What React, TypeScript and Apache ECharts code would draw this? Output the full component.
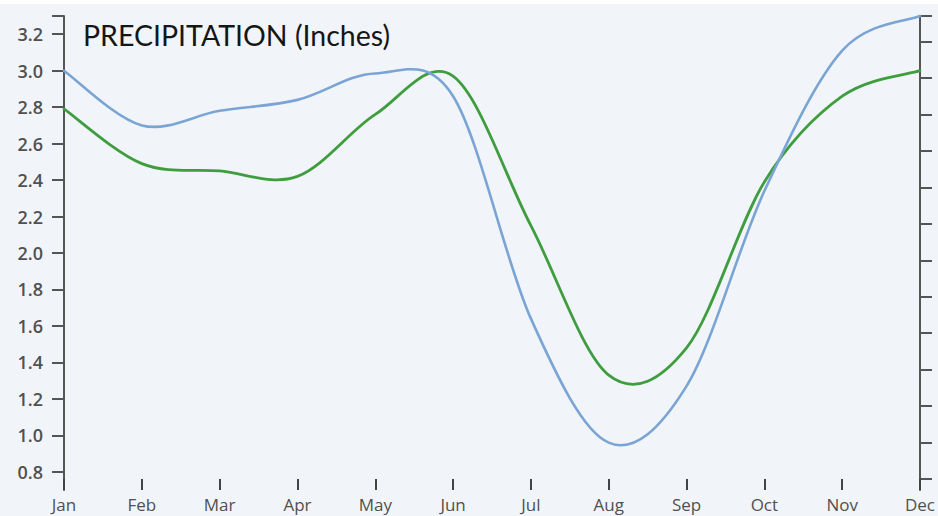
import React, { useEffect, useRef } from "react";
import * as echarts from "echarts";

const months = ["Jan", "Feb", "Mar", "Apr", "May", "Jun", "Jul", "Aug", "Sep", "Oct", "Nov", "Dec"];
const blueSeries = [3.0, 2.7, 2.78, 2.84, 2.985, 2.86, 1.64, 0.96, 1.27, 2.34, 3.11, 3.3];
const greenSeries = [2.79, 2.49, 2.45, 2.42, 2.76, 2.97, 2.15, 1.33, 1.48, 2.39, 2.86, 3.0];
const leftTickLabels = [0.8, 1.0, 1.2, 1.4, 1.6, 1.8, 2.0, 2.2, 2.4, 2.6, 2.8, 3.0, 3.2];
const leftTicks = [...leftTickLabels, 3.3];
const rightTicks = [0.76, 0.96, 1.16, 1.36, 1.56, 1.76, 1.96, 2.16, 2.36, 2.56, 2.76, 2.96, 3.16, 3.3];
const titleText = "PRECIPITATION (Inches)";

function splineSeries(values: number[], color: string, width: number, z: number) {
  return {
    type: "custom",
    coordinateSystem: "cartesian2d",
    xAxisIndex: 0,
    yAxisIndex: 0,
    data: values.map((v, i) => [i, v]),
    encode: { x: 0, y: 1 },
    z,
    silent: true,
    renderItem: (params: any, api: any) => {
      if (params.dataIndex !== 0) return null;
      const pts = values.map((v, i) => api.coord([i, v]));
      const n = pts.length;
      let d = `M${pts[0][0]},${pts[0][1]}`;
      for (let i = 0; i < n - 1; i++) {
        const p0 = pts[Math.max(0, i - 1)];
        const p1 = pts[i];
        const p2 = pts[i + 1];
        const p3 = pts[Math.min(n - 1, i + 2)];
        const c1x = p1[0] + (p2[0] - p0[0]) / 6;
        const c1y = p1[1] + (p2[1] - p0[1]) / 6;
        const c2x = p2[0] - (p3[0] - p1[0]) / 6;
        const c2y = p2[1] - (p3[1] - p1[1]) / 6;
        d += ` C${c1x},${c1y} ${c2x},${c2y} ${p2[0]},${p2[1]}`;
      }
      return {
        type: "path",
        shape: { pathData: d },
        style: { fill: "none", stroke: color, lineWidth: width, lineJoin: "round", lineCap: "round" },
      };
    },
  };
}

export default function App() {
  const ref = useRef<HTMLDivElement>(null);
  useEffect(() => {
    if (!ref.current) return;
    const chart = echarts.init(ref.current, undefined, { renderer: "svg" });
    const axisColor = "#555555";
    const labelColor = "#505050";
    chart.setOption({
      animation: false,
      backgroundColor: "#f1f5fa",
      title: {
        text: titleText,
        left: 78,
        top: 15,
        textStyle: { fontFamily: "Lato", fontSize: 28.5, fontWeight: "normal", color: "#161616" },
      },
      graphic: [
        { type: "rect", left: 0, top: 0, shape: { width: 938, height: 4 }, style: { fill: "#ffffff" }, silent: true },
      ],
      grid: { left: 64, right: 16, top: 16, bottom: 26 },
      xAxis: {
        type: "category",
        data: months,
        boundaryGap: false,
        axisLine: { show: false },
        axisTick: { show: true, inside: true, length: 11, lineStyle: { color: "#444", width: 2 } },
        axisLabel: {
          interval: 0,
          margin: 6,
          fontSize: 17,
          color: labelColor,
          fontFamily: "Open Sans",
          showMinLabel: true,
          showMaxLabel: true,
        },
        splitLine: { show: false },
      },
      yAxis: [
        {
          type: "value",
          min: 0.7,
          max: 3.3,
          position: "left",
          axisLine: { show: true, lineStyle: { color: axisColor, width: 2 } },
          axisTick: { show: true, customValues: leftTicks, length: 12, lineStyle: { color: axisColor, width: 2 } },
          axisLabel: {
            customValues: leftTickLabels,
            formatter: (v: number) => v.toFixed(1),
            margin: 21,
            fontSize: 18,
            fontWeight: 600,
            color: labelColor,
            fontFamily: "Open Sans",
          },
          splitLine: { show: false },
        },
        {
          type: "value",
          min: 0.7,
          max: 3.3,
          position: "right",
          axisLine: { show: true, lineStyle: { color: axisColor, width: 2 } },
          axisTick: { show: true, customValues: rightTicks, length: 12, lineStyle: { color: axisColor, width: 2 } },
          axisLabel: { show: false },
          splitLine: { show: false },
        },
      ],
      series: [
        splineSeries(blueSeries, "#7aa4d4", 2.6, 3),
        splineSeries(greenSeries, "#3f9d3f", 2.8, 2),
      ],
    });
    return () => chart.dispose();
  }, []);
  return <div ref={ref} style={{ position: "fixed", left: 0, top: 0, width: 938, height: 516 }} />;
}
